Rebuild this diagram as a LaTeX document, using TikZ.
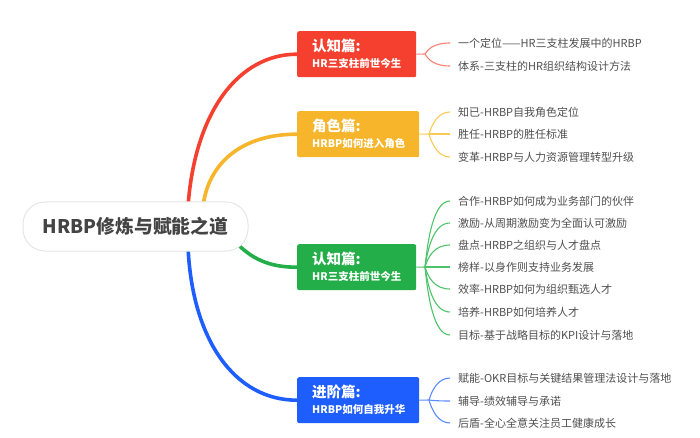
\documentclass[tikz,border=0pt]{standalone}
\usepackage{fontspec}
\setmainfont{Noto Sans CJK SC}
\usetikzlibrary{calc}
\definecolor{cred}{HTML}{F5402F}
\definecolor{cyel}{HTML}{F6B52A}
\definecolor{cgrn}{HTML}{24AE4A}
\definecolor{cblu}{HTML}{1E5EFF}
\definecolor{lred}{HTML}{FA7F74}
\definecolor{lyel}{HTML}{F9CA55}
\definecolor{lgrn}{HTML}{4DC36B}
\definecolor{lblu}{HTML}{5C8AFF}
\definecolor{cleaf}{HTML}{4F4F4F}
\definecolor{ctext}{HTML}{444444}
\definecolor{cgrayb}{HTML}{E6E6E6}
\pgfdeclarelayer{bg}
\pgfsetlayers{bg,main}
\begin{document}
\begin{tikzpicture}[x=1pt,y=-1pt,
  central/.style={draw=cgrayb, line width=1pt, fill=white, rounded corners=22pt,
    minimum width=225pt, minimum height=49pt, inner sep=0pt, text=ctext,
    font=\fontsize{18.8}{24}\selectfont\bfseries},
  topic/.style={rounded corners=2pt, minimum height=46pt, inner xsep=15pt, inner ysep=0pt,
    align=left, text=white, anchor=north west, font=\fontsize{10.5}{16}\selectfont\bfseries},
  leaf/.style={anchor=west, inner sep=0pt, text=cleaf, font=\fontsize{11}{13}\selectfont},
  trunk/.style={line width=3.6pt, line cap=round},
  twig/.style={line width=1.1pt}]
\useasboundingbox (0,0) rectangle (700,438);

\node[central] (c) at (135.5,226.5) {HRBP修炼与赋能之道};

\newcommand{\topictext}[2]{{\fontsize{14.5}{16}\selectfont #1}\\{#2}}

\node[topic, fill=cred, text width=89pt] (t1) at (297,31) {\topictext{认知篇:}{HR三支柱前世今生}};
\node[topic, fill=cyel, text width=92pt] (t2) at (297,111) {\topictext{角色篇:}{HRBP如何进入角色}};
\node[topic, fill=cgrn, text width=89pt] (t3) at (297,244) {\topictext{认知篇:}{HR三支柱前世今生}};
\node[topic, fill=cblu, text width=92pt] (t4) at (297,377) {\topictext{进阶篇:}{HRBP如何自我升华}};

\coordinate (f1) at (425,54);
\coordinate (f2) at (429,134);
\coordinate (f3) at (425,267);
\coordinate (f4) at (429,400);

\node[leaf] (a1) at (458,43) {一个定位——HR三支柱发展中的HRBP};
\node[leaf] (a2) at (458,66) {体系-三支柱的HR组织结构设计方法};

\node[leaf] (b1) at (458,112) {知已-HRBP自我角色定位};
\node[leaf] (b2) at (458,134) {胜任-HRBP的胜任标准};
\node[leaf] (b3) at (458,157) {变革-HRBP与人力资源管理转型升级};

\node[leaf] (g1) at (458,201) {合作-HRBP如何成为业务部门的伙伴};
\node[leaf] (g2) at (458,223) {激励-从周期激励变为全面认可激励};
\node[leaf] (g3) at (458,245) {盘点-HRBP之组织与人才盘点};
\node[leaf] (g4) at (458,267) {榜样-以身作则支持业务发展};
\node[leaf] (g5) at (458,289) {效率-HRBP如何为组织甄选人才};
\node[leaf] (g6) at (458,312) {培养-HRBP如何培养人才};
\node[leaf] (g7) at (458,335) {目标-基于战略目标的KPI设计与落地};

\node[leaf] (d1) at (458,378) {赋能-OKR目标与关键结果管理法设计与落地};
\node[leaf] (d2) at (458,401) {辅导-绩效辅导与承诺};
\node[leaf] (d3) at (458,423) {后盾-全心全意关注员工健康成长};

\begin{pgfonlayer}{bg}
\draw[trunk, cred] ($(c.north)+(52.5,5)$) .. controls ($(c.north)+(59.5,-92)$) and ($(t1.west)+(-57,0)$) .. (t1.west);
\draw[trunk, cyel] ($(c.north)+(67.5,5)$) .. controls ($(c.north)+(72.5,-37)$) and ($(t2.west)+(-57,0)$) .. (t2.west);
\draw[trunk, cgrn] ($(c.south)+(100.5,-9)$) .. controls ($(c.south)+(119.5,11)$) and ($(t3.west)+(-22,0)$) .. (t3.west);
\draw[trunk, cblu] ($(c.south)+(52.5,-5)$) .. controls ($(c.south)+(56.5,89)$) and ($(t4.west)+(-62,0)$) .. (t4.west);
\end{pgfonlayer}

\draw[twig, lred] (t1.east) -- (f1);
\draw[twig, lyel] (t2.east) -- (f2);
\draw[twig, lgrn] (t3.east) -- (f3);
\draw[twig, lblu] (t4.east) -- (f4);

\foreach \f/\l/\col in {f1/a1/lred, f1/a2/lred,
  f2/b1/lyel, f2/b2/lyel, f2/b3/lyel,
  f3/g1/lgrn, f3/g2/lgrn, f3/g3/lgrn, f3/g4/lgrn, f3/g5/lgrn, f3/g6/lgrn, f3/g7/lgrn,
  f4/d1/lblu, f4/d2/lblu, f4/d3/lblu}{
  \draw[twig, \col] let \p1=(\f), \p2=($(\l.west)+(-8,0)$) in
    (\p1) .. controls (\x1+3pt, {\y1+0.45*(\y2-\y1)}) and (\x1+9pt,\y2) .. (\p2);
}
\end{tikzpicture}
\end{document}
